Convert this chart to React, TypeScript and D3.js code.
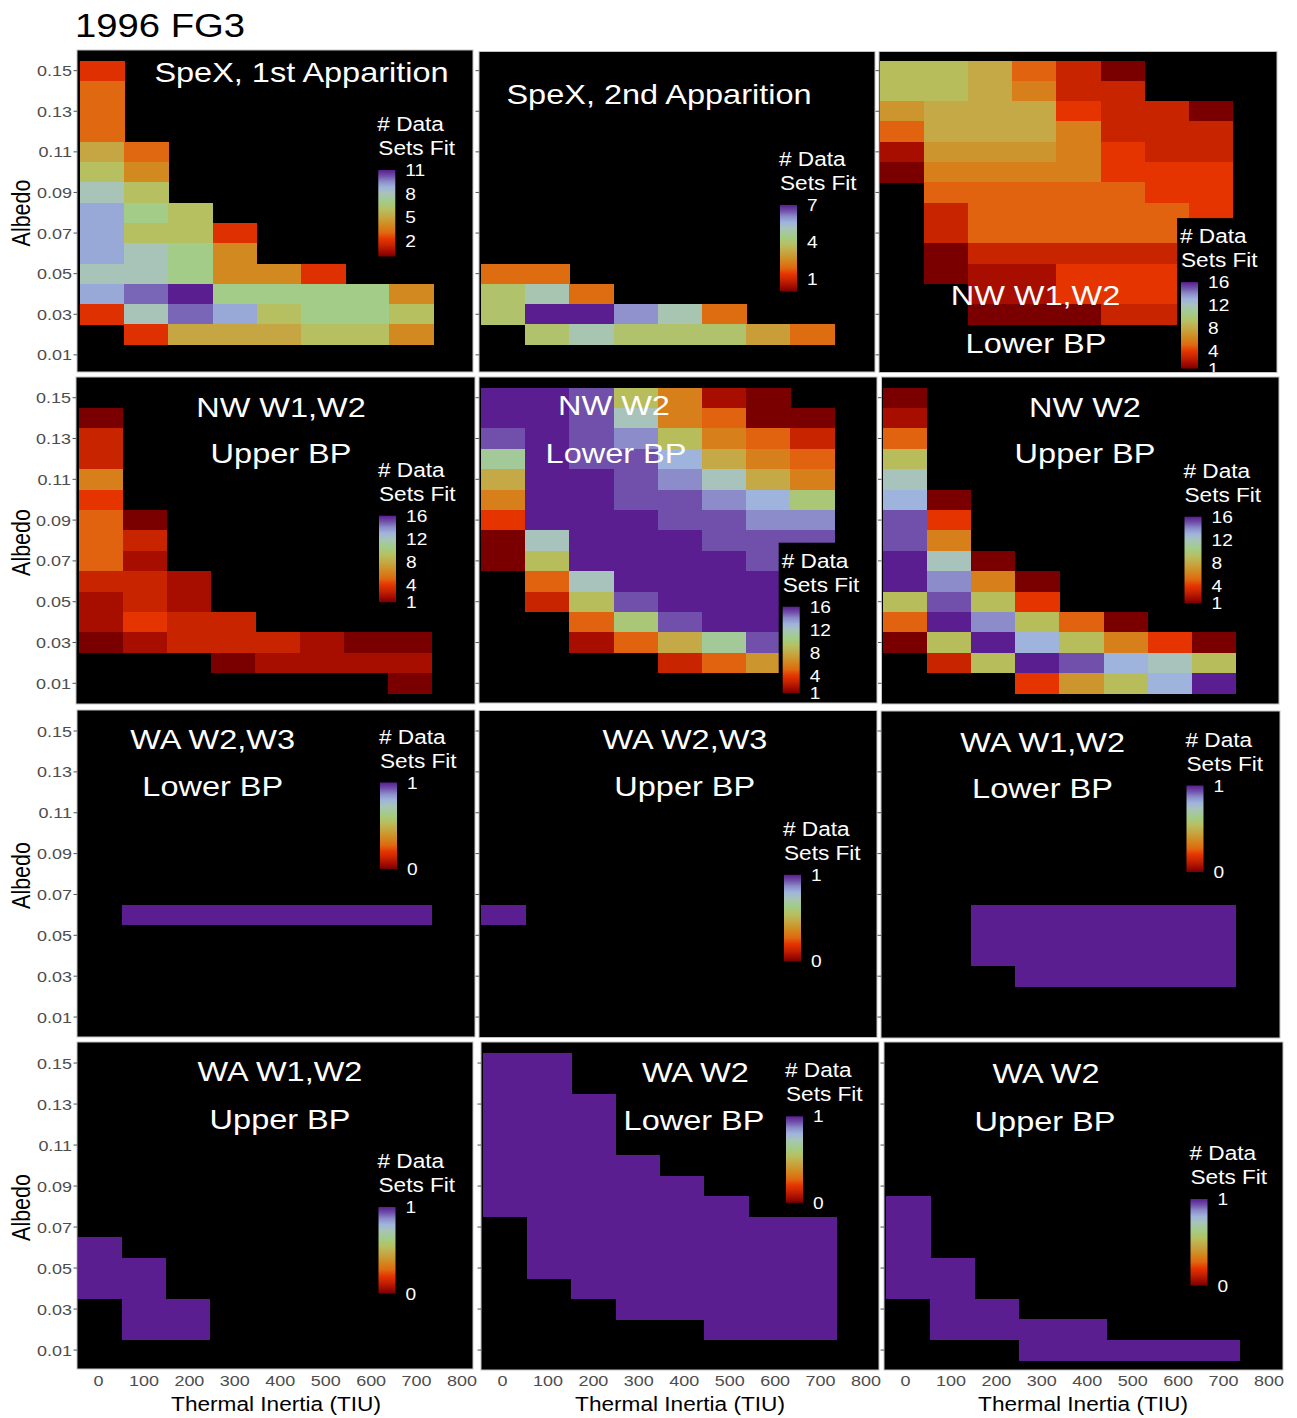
import React from "react";
import * as d3 from "d3";

// ---------- shared axes ----------
const THERMAL_INERTIA = [0, 100, 200, 300, 400, 500, 600, 700];
const ALBEDO = [0.15, 0.14, 0.13, 0.12, 0.11, 0.1, 0.09, 0.08, 0.07, 0.06, 0.05, 0.04, 0.03, 0.02, 0.01];
const TI_TICKS = [0, 100, 200, 300, 400, 500, 600, 700, 800];
const ALBEDO_TICKS = [0.15, 0.13, 0.11, 0.09, 0.07, 0.05, 0.03, 0.01];

// ---------- number of data sets fit per (albedo row, thermal inertia column) ----------
const _ = null;
type Grid = (number | null)[][];

const spexFirst: Grid = [
  [2, _, _, _, _, _, _, _],
  [3, _, _, _, _, _, _, _],
  [3, _, _, _, _, _, _, _],
  [3, _, _, _, _, _, _, _],
  [5, 3, _, _, _, _, _, _],
  [6, 4, _, _, _, _, _, _],
  [8, 6, _, _, _, _, _, _],
  [9, 7, 6, _, _, _, _, _],
  [9, 6, 6, 2, _, _, _, _],
  [9, 8, 7, 4, _, _, _, _],
  [8, 8, 7, 4, 4, 2, _, _],
  [9, 10, 11, 7, 7, 7, 7, 4],
  [2, 8, 10, 9, 6, 7, 7, 6],
  [_, 2, 5, 5, 5, 6, 6, 4],
  [_, _, _, _, _, _, _, _],
];

const spexSecond: Grid = [
  [_, _, _, _, _, _, _, _],
  [_, _, _, _, _, _, _, _],
  [_, _, _, _, _, _, _, _],
  [_, _, _, _, _, _, _, _],
  [_, _, _, _, _, _, _, _],
  [_, _, _, _, _, _, _, _],
  [_, _, _, _, _, _, _, _],
  [_, _, _, _, _, _, _, _],
  [_, _, _, _, _, _, _, _],
  [_, _, _, _, _, _, _, _],
  [2, 2, _, _, _, _, _, _],
  [4, 5, 2, _, _, _, _, _],
  [4, 7, 7, 6, 5, 2, _, _],
  [_, 4, 5, 4, 4, 4, 3, 2],
  [_, _, _, _, _, _, _, _],
];

const nwW12Lower: Grid = [
  [9, 9, 8, 5, 3, 1, _, _],
  [9, 9, 8, 6, 3, 3, _, _],
  [7, 8, 8, 8, 4, 3, 3, 1],
  [5, 8, 8, 8, 6, 3, 3, 3],
  [2, 7, 7, 7, 6, 4, 3, 3],
  [1, 6, 6, 6, 6, 4, 4, 4],
  [_, 5, 5, 5, 5, 5, 4, 4],
  [_, 3, 5, 5, 5, 5, 5, 4],
  [_, 3, 5, 5, 5, 5, 5, _],
  [_, 1, 3, 3, 3, 3, 3, _],
  [_, 1, 2, 2, 4, 4, 4, _],
  [_, _, 2, 2, 4, 4, 4, _],
  [_, _, 1, 1, 1, 3, 3, _],
  [_, _, _, _, _, _, _, _],
  [_, _, _, _, _, _, _, _],
];

const nwW12Upper: Grid = [
  [_, _, _, _, _, _, _, _],
  [1, _, _, _, _, _, _, _],
  [3, _, _, _, _, _, _, _],
  [3, _, _, _, _, _, _, _],
  [6, _, _, _, _, _, _, _],
  [4, _, _, _, _, _, _, _],
  [5, 1, _, _, _, _, _, _],
  [5, 3, _, _, _, _, _, _],
  [5, 2, _, _, _, _, _, _],
  [3, 3, 2, _, _, _, _, _],
  [2, 3, 2, _, _, _, _, _],
  [2, 4, 3, 3, _, _, _, _],
  [1, 2, 3, 3, 3, 2, 1, 1],
  [_, _, _, 1, 2, 2, 2, 2],
  [_, _, _, _, _, _, _, 1],
];

const nwW2Lower: Grid = [
  [16, 16, 15, 9, 6, 2, 1, _],
  [16, 16, 15, 12, 6, 5, 1, 1],
  [15, 16, 15, 14, 9, 6, 5, 3],
  [11, 16, 15, 15, 13, 8, 6, 5],
  [8, 16, 16, 15, 14, 12, 8, 6],
  [6, 16, 16, 15, 15, 14, 13, 10],
  [4, 16, 16, 16, 15, 15, 14, 14],
  [1, 12, 16, 16, 16, 15, 15, 15],
  [1, 9, 16, 16, 16, 16, 15, _],
  [_, 5, 12, 16, 16, 16, 16, _],
  [_, 3, 9, 15, 16, 16, 16, _],
  [_, _, 5, 10, 15, 16, 16, _],
  [_, _, 2, 5, 8, 11, 15, _],
  [_, _, _, _, 3, 5, 7, _],
  [_, _, _, _, _, _, _, _],
];

const nwW2Upper: Grid = [
  [1, _, _, _, _, _, _, _],
  [2, _, _, _, _, _, _, _],
  [5, _, _, _, _, _, _, _],
  [9, _, _, _, _, _, _, _],
  [12, _, _, _, _, _, _, _],
  [13, 1, _, _, _, _, _, _],
  [15, 4, _, _, _, _, _, _],
  [15, 6, _, _, _, _, _, _],
  [16, 12, 1, _, _, _, _, _],
  [16, 14, 6, 1, _, _, _, _],
  [9, 15, 9, 4, _, _, _, _],
  [5, 16, 14, 9, 5, 1, _, _],
  [1, 9, 16, 13, 9, 6, 4, 1],
  [_, 3, 9, 16, 15, 13, 12, 9],
  [_, _, _, 4, 7, 9, 13, 16],
];

const waW23Lower: Grid = [
  [_, _, _, _, _, _, _, _],
  [_, _, _, _, _, _, _, _],
  [_, _, _, _, _, _, _, _],
  [_, _, _, _, _, _, _, _],
  [_, _, _, _, _, _, _, _],
  [_, _, _, _, _, _, _, _],
  [_, _, _, _, _, _, _, _],
  [_, _, _, _, _, _, _, _],
  [_, _, _, _, _, _, _, _],
  [_, 1, 1, 1, 1, 1, 1, 1],
  [_, _, _, _, _, _, _, _],
  [_, _, _, _, _, _, _, _],
  [_, _, _, _, _, _, _, _],
  [_, _, _, _, _, _, _, _],
  [_, _, _, _, _, _, _, _],
];

const waW23Upper: Grid = [
  [_, _, _, _, _, _, _, _],
  [_, _, _, _, _, _, _, _],
  [_, _, _, _, _, _, _, _],
  [_, _, _, _, _, _, _, _],
  [_, _, _, _, _, _, _, _],
  [_, _, _, _, _, _, _, _],
  [_, _, _, _, _, _, _, _],
  [_, _, _, _, _, _, _, _],
  [_, _, _, _, _, _, _, _],
  [1, _, _, _, _, _, _, _],
  [_, _, _, _, _, _, _, _],
  [_, _, _, _, _, _, _, _],
  [_, _, _, _, _, _, _, _],
  [_, _, _, _, _, _, _, _],
  [_, _, _, _, _, _, _, _],
];

const waW12Lower: Grid = [
  [_, _, _, _, _, _, _, _],
  [_, _, _, _, _, _, _, _],
  [_, _, _, _, _, _, _, _],
  [_, _, _, _, _, _, _, _],
  [_, _, _, _, _, _, _, _],
  [_, _, _, _, _, _, _, _],
  [_, _, _, _, _, _, _, _],
  [_, _, _, _, _, _, _, _],
  [_, _, _, _, _, _, _, _],
  [_, _, 1, 1, 1, 1, 1, 1],
  [_, _, 1, 1, 1, 1, 1, 1],
  [_, _, 1, 1, 1, 1, 1, 1],
  [_, _, _, 1, 1, 1, 1, 1],
  [_, _, _, _, _, _, _, _],
  [_, _, _, _, _, _, _, _],
];

const waW12Upper: Grid = [
  [_, _, _, _, _, _, _, _],
  [_, _, _, _, _, _, _, _],
  [_, _, _, _, _, _, _, _],
  [_, _, _, _, _, _, _, _],
  [_, _, _, _, _, _, _, _],
  [_, _, _, _, _, _, _, _],
  [_, _, _, _, _, _, _, _],
  [_, _, _, _, _, _, _, _],
  [_, _, _, _, _, _, _, _],
  [1, _, _, _, _, _, _, _],
  [1, 1, _, _, _, _, _, _],
  [1, 1, _, _, _, _, _, _],
  [_, 1, 1, _, _, _, _, _],
  [_, 1, 1, _, _, _, _, _],
  [_, _, _, _, _, _, _, _],
];

const waW2Lower: Grid = [
  [1, 1, _, _, _, _, _, _],
  [1, 1, _, _, _, _, _, _],
  [1, 1, 1, _, _, _, _, _],
  [1, 1, 1, _, _, _, _, _],
  [1, 1, 1, _, _, _, _, _],
  [1, 1, 1, 1, _, _, _, _],
  [1, 1, 1, 1, 1, _, _, _],
  [1, 1, 1, 1, 1, 1, _, _],
  [_, 1, 1, 1, 1, 1, 1, 1],
  [_, 1, 1, 1, 1, 1, 1, 1],
  [_, 1, 1, 1, 1, 1, 1, 1],
  [_, _, 1, 1, 1, 1, 1, 1],
  [_, _, _, 1, 1, 1, 1, 1],
  [_, _, _, _, _, 1, 1, 1],
  [_, _, _, _, _, _, _, _],
];

const waW2Upper: Grid = [
  [_, _, _, _, _, _, _, _],
  [_, _, _, _, _, _, _, _],
  [_, _, _, _, _, _, _, _],
  [_, _, _, _, _, _, _, _],
  [_, _, _, _, _, _, _, _],
  [_, _, _, _, _, _, _, _],
  [_, _, _, _, _, _, _, _],
  [1, _, _, _, _, _, _, _],
  [1, _, _, _, _, _, _, _],
  [1, _, _, _, _, _, _, _],
  [1, 1, _, _, _, _, _, _],
  [1, 1, _, _, _, _, _, _],
  [_, 1, 1, _, _, _, _, _],
  [_, 1, 1, 1, 1, _, _, _],
  [_, _, _, 1, 1, 1, 1, 1],
];

// ---------- colour bar limits and breaks ----------
const LIMITS_SPEX1 = [0, 11];
const BREAKS_SPEX1 = [2, 5, 8, 11];
const LIMITS_SPEX2 = [0, 7];
const BREAKS_SPEX2 = [1, 4, 7];
const LIMITS_NW = [1, 16];
const BREAKS_NW = [1, 4, 8, 12, 16];
const LIMITS_WA = [0, 1];
const BREAKS_WA = [0, 1];

// ---------- panel content ----------
const PANELS = [
  { title: ["SpeX, 1st Apparition"], grid: spexFirst, limits: LIMITS_SPEX1, breaks: BREAKS_SPEX1 },
  { title: ["SpeX, 2nd Apparition"], grid: spexSecond, limits: LIMITS_SPEX2, breaks: BREAKS_SPEX2 },
  { title: ["NW W1,W2", "Lower BP"], grid: nwW12Lower, limits: LIMITS_NW, breaks: BREAKS_NW },
  { title: ["NW W1,W2", "Upper BP"], grid: nwW12Upper, limits: LIMITS_NW, breaks: BREAKS_NW },
  { title: ["NW W2", "Lower BP"], grid: nwW2Lower, limits: LIMITS_NW, breaks: BREAKS_NW },
  { title: ["NW W2", "Upper BP"], grid: nwW2Upper, limits: LIMITS_NW, breaks: BREAKS_NW },
  { title: ["WA W2,W3", "Lower BP"], grid: waW23Lower, limits: LIMITS_WA, breaks: BREAKS_WA },
  { title: ["WA W2,W3", "Upper BP"], grid: waW23Upper, limits: LIMITS_WA, breaks: BREAKS_WA },
  { title: ["WA W1,W2", "Lower BP"], grid: waW12Lower, limits: LIMITS_WA, breaks: BREAKS_WA },
  { title: ["WA W1,W2", "Upper BP"], grid: waW12Upper, limits: LIMITS_WA, breaks: BREAKS_WA },
  { title: ["WA W2", "Lower BP"], grid: waW2Lower, limits: LIMITS_WA, breaks: BREAKS_WA },
  { title: ["WA W2", "Upper BP"], grid: waW2Upper, limits: LIMITS_WA, breaks: BREAKS_WA },
];

// ---------- layout (pixels) ----------
const ROWS = [
  { top: 60.5, step: 20.3 },
  { top: 387.5, step: 20.4 },
  { top: 720.8, step: 20.43 },
  { top: 1052.8, step: 20.5 },
];
const CELL_W = 44.2;
// frame x, y, w, h; first cell column x; title centres (relative); legend bar top-left (relative)
const LAYOUT = [
  { x: 77, y: 50, w: 396, h: 322, c0: 80, t: [[224.5, 21.7]], lg: [301.3, 120] },
  { x: 479, y: 51.5, w: 396, h: 320.5, c0: 481, t: [[180, 42.5]], lg: [301, 153.5] },
  { x: 879, y: 51.5, w: 398, h: 321, c0: 879.5, t: [[156.5, 243.5], [157, 291]], lg: [302, 230.6], box: true },
  { x: 76, y: 377, w: 399, h: 327, c0: 78.5, t: [[205, 29.7], [205, 76]], lg: [303, 138.7] },
  { x: 479, y: 377, w: 398, h: 326, c0: 481, t: [[135, 28], [137, 75.5]], lg: [303.7, 229.7], box: true },
  { x: 881.5, y: 377, w: 397.5, h: 327, c0: 882.5, t: [[203.5, 29.7], [203.5, 76]], lg: [303, 139.7] },
  { x: 77, y: 710, w: 398, h: 327, c0: 78, t: [[135.6, 28.6], [135.7, 75.5]], lg: [303, 72.5] },
  { x: 479, y: 710.5, w: 398, h: 327, c0: 481, t: [[206, 28.3], [205.7, 75.5]], lg: [305, 164.3] },
  { x: 881, y: 711, w: 399, h: 327, c0: 882.5, t: [[161.6, 30.7], [161.5, 77.3]], lg: [305.5, 74.5] },
  { x: 77, y: 1042, w: 396, h: 327, c0: 77.5, t: [[203, 29.3], [203, 76.8]], lg: [301.5, 165] },
  { x: 481, y: 1042, w: 398, h: 328, c0: 483, t: [[214.4, 30], [213, 78.3]], lg: [305, 74.3] },
  { x: 884, y: 1042, w: 399, h: 328, c0: 886, t: [[162, 31], [161, 79]], lg: [306.5, 157] },
];

const BAR_W = 17;
const BAR_H = 86.5;
const SX = 1.16; // horizontal stretch of all lettering
const FONT = "'Liberation Sans', Arial, Helvetica, sans-serif";

// ---------- colour palette ----------
const PAL_T = [0, 0.067, 0.133, 0.2, 0.273, 0.364, 0.455, 0.545, 0.636, 0.727, 0.8, 0.867, 0.933, 1];
const PAL_C = ["#7a0000", "#a80e00", "#c82400", "#e63400", "#e06810", "#d28a20", "#c6a642", "#b6c060", "#a2cc88", "#a8c4b8", "#9eb4dc", "#8c8cca", "#7050aa", "#5a1e90"];
const palette = d3.scaleLinear<string>().domain(PAL_T).range(PAL_C).interpolate(d3.interpolateRgb).clamp(true);

function Txt(props: {
  x: number; y: number; size: number; fill: string; anchor?: string; rotate?: boolean; children: React.ReactNode;
}) {
  const { x, y, size, fill, anchor = "start", rotate = false, children } = props;
  const tf = `translate(${x},${y}) scale(${SX},1)` + (rotate ? " rotate(-90)" : "");
  return (
    <text transform={tf} fontSize={size} fill={fill} textAnchor={anchor as any} fontFamily={FONT}>
      {children}
    </text>
  );
}

function Panel({ idx }: { idx: number }) {
  const spec = PANELS[idx];
  const L = LAYOUT[idx];
  const row = ROWS[Math.floor(idx / 3)];
  const col = idx % 3;
  const bottomRow = idx >= 9;

  const xBand = d3.scaleBand<number>().domain(THERMAL_INERTIA).range([L.c0, L.c0 + CELL_W * THERMAL_INERTIA.length]);
  const yBand = d3.scaleBand<number>().domain(ALBEDO).range([row.top, row.top + row.step * ALBEDO.length]);
  const tScale = d3.scaleLinear().domain(spec.limits).range([0, 1]);
  const fill = (v: number) => palette(tScale(v));
  const xTicks = d3.scaleLinear().domain([0, 800]).range([L.x + 21.5, L.x + 385]);

  const barX = L.x + L.lg[0];
  const barY = L.y + L.lg[1];
  const legScale = d3.scaleLinear().domain(spec.limits).range([barY + BAR_H, barY]);
  const clipId = `clip${idx}`;

  const cells: React.ReactNode[] = [];
  spec.grid.forEach((r, ri) =>
    r.forEach((v, ci) => {
      if (v == null) return;
      cells.push(
        <rect
          key={`${ri}-${ci}`}
          x={xBand(THERMAL_INERTIA[ci])!}
          y={yBand(ALBEDO[ri])!}
          width={xBand.bandwidth() + 0.3}
          height={yBand.bandwidth() + 0.3}
          fill={fill(v)}
        />
      );
    })
  );

  return (
    <g>
      <defs>
        <clipPath id={clipId}>
          <rect x={L.x} y={L.y} width={L.w} height={L.h} />
        </clipPath>
      </defs>
      <rect x={L.x} y={L.y} width={L.w} height={L.h} fill="#000" />
      <g clipPath={`url(#${clipId})`}>
        <g shapeRendering="crispEdges">{cells}</g>
        {L.box && (
          <rect x={barX - 4} y={barY - 64} width={L.x + L.w - barX + 4} height={BAR_H + 76} fill="#000" />
        )}
        {spec.title.map((s, i) => (
          <Txt key={i} x={L.x + L.t[i][0]} y={L.y + L.t[i][1] + 10} size={28} fill="#fff" anchor="middle">
            {s}
          </Txt>
        ))}
        <Txt x={barX - 1} y={barY - 39} size={19.5} fill="#fff">
          # Data
        </Txt>
        <Txt x={barX} y={barY - 15} size={19.5} fill="#fff">
          Sets Fit
        </Txt>
        <rect x={barX} y={barY} width={BAR_W} height={BAR_H} fill="url(#fitGrad)" />
        {spec.breaks.map((b) => (
          <Txt key={b} x={barX + BAR_W + 10} y={legScale(b) + 6} size={16.5} fill="#fff">
            {String(b)}
          </Txt>
        ))}
      </g>
      <rect x={L.x} y={L.y} width={L.w} height={L.h} fill="none" stroke="#c4c4c4" strokeWidth={1} />
      {/* y axis ticks */}
      {ALBEDO_TICKS.map((a) => {
        const yy = yBand(a)! + yBand.bandwidth() / 2;
        return (
          <g key={a}>
            <line x1={L.x - 3.5} x2={L.x} y1={yy} y2={yy} stroke="#555" strokeWidth={1} />
            {col === 0 && (
              <Txt x={L.x - 5} y={yy + 5.5} size={15.5} fill="#4d4d4d" anchor="end">
                {a.toFixed(2)}
              </Txt>
            )}
          </g>
        );
      })}
      {col === 0 && (
        <Txt x={30} y={L.y + L.h / 2 + 2} size={21.5} fill="#000" anchor="middle" rotate>
          Albedo
        </Txt>
      )}
      {bottomRow &&
        TI_TICKS.map((t) => (
          <Txt key={t} x={xTicks(t)} y={1385.5} size={15.5} fill="#4d4d4d" anchor="middle">
            {String(t)}
          </Txt>
        ))}
      {bottomRow && (
        <Txt x={L.x + 199} y={1411} size={19.5} fill="#000" anchor="middle">
          Thermal Inertia (TIU)
        </Txt>
      )}
    </g>
  );
}

export default function App() {
  const gradStops = PAL_T.map((t, i) => ({ offset: t, color: PAL_C[i] }));
  return (
    <svg
      width={1297}
      height={1418}
      viewBox="0 0 1297 1418"
      style={{ position: "absolute", left: 0, top: 0, background: "#fff" }}
    >
      <defs>
        <linearGradient id="fitGrad" x1="0" y1="1" x2="0" y2="0">
          {gradStops.map((s, i) => (
            <stop key={i} offset={s.offset} stopColor={s.color} />
          ))}
        </linearGradient>
      </defs>
      <rect x={0} y={0} width={1297} height={1418} fill="#fff" />
      <Txt x={75} y={36.5} size={33} fill="#000">
        1996 FG3
      </Txt>
      {PANELS.map((_p, i) => (
        <Panel key={i} idx={i} />
      ))}
    </svg>
  );
}
